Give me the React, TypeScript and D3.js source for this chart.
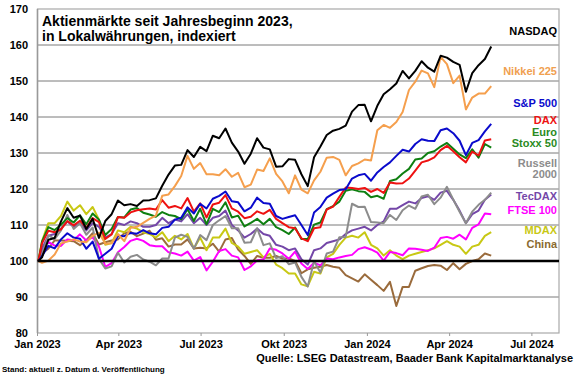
import React from "react";
import * as d3 from "d3";

const START = new Date(2023, 0, 2);
// weekly Friday closes from 6 Jan 2023 to 17 May 2024 (72 weeks)
const weeks: Date[] = Array.from({ length: 72 }, (_, i) => new Date(2023, 0, 6 + 7 * i));
const dates: Date[] = [START, ...weeks];

const nasdaq = [101.0,105.9,106.4,111.0,114.7,112.0,112.6,108.9,111.7,106.4,111.1,113.0,116.8,115.5,115.8,115.3,116.8,116.9,117.4,120.9,124.0,126.5,126.7,130.8,128.9,131.7,130.5,134.8,134.1,136.8,132.9,130.4,127.0,129.8,134.1,131.5,131.0,126.2,126.3,128.3,128.1,124.1,120.8,128.8,131.8,135.0,136.2,136.7,137.6,141.5,143.3,143.4,138.8,143.1,146.3,147.7,149.3,152.8,150.7,152.8,155.5,153.7,152.6,157.0,156.5,155.3,154.5,147.0,152.2,154.4,156.1,159.6];
const nikkei = [99.5,100.1,101.8,104.9,105.4,106.0,105.4,105.2,107.0,107.9,104.8,104.9,107.5,105.5,109.2,109.5,110.6,111.7,112.6,118.1,118.5,120.8,123.6,129.2,125.6,127.2,124.1,124.1,123.8,125.5,123.4,124.5,120.5,121.2,125.4,125.0,128.5,124.2,122.1,118.8,123.8,119.8,118.8,122.4,124.8,128.7,128.9,128.1,123.8,126.4,127.1,128.2,127.9,136.3,137.8,137.0,138.6,141.4,147.5,149.8,152.9,152.1,148.3,156.7,154.7,149.4,151.5,142.1,145.4,146.5,146.5,148.6];
const sp500 = [101.4,104.2,103.5,106.0,107.7,106.5,106.2,103.4,105.4,100.6,102.0,103.4,107.0,106.9,107.8,107.6,108.6,107.7,107.4,109.2,109.5,111.5,112.0,114.9,113.2,115.9,114.6,117.3,118.1,119.3,116.6,116.3,113.8,114.8,117.6,116.1,115.9,112.5,111.7,112.2,112.7,110.0,107.2,113.5,115.0,117.6,118.7,119.7,119.9,122.9,123.8,124.2,122.3,124.6,126.1,127.4,129.2,130.9,130.4,132.5,133.8,133.4,133.3,136.3,136.8,135.5,133.4,129.4,132.8,133.6,136.0,138.1];
const dax = [104.9,108.4,108.0,108.8,111.1,109.9,111.2,109.2,111.9,110.8,106.1,107.4,112.2,112.0,113.5,114.1,114.4,114.6,114.3,116.9,114.8,115.3,114.6,117.5,113.7,116.0,112.1,115.7,116.2,118.3,114.6,113.7,111.9,112.3,113.8,113.1,114.2,111.7,110.5,109.4,109.1,106.3,105.5,109.1,109.4,114.3,115.1,117.8,120.4,120.3,120.0,120.3,119.2,120.0,118.9,121.8,121.5,121.6,122.9,125.1,127.4,127.9,128.8,130.8,132.0,130.5,128.8,127.4,130.4,129.3,133.5,133.8];
const euroStoxx = [105.4,109.4,108.6,110.1,111.9,110.7,112.7,110.2,113.2,111.5,107.2,108.9,112.2,112.1,114.3,114.7,113.4,112.9,112.3,113.6,112.8,112.5,111.6,114.4,111.1,114.5,110.2,114.5,113.6,116.3,112.1,112.6,109.6,110.6,111.7,110.2,111.7,109.4,108.6,107.5,109.3,106.1,106.1,110.1,110.7,114.4,115.2,116.5,119.5,119.9,119.4,119.2,117.7,118.1,117.3,122.2,122.7,124.3,125.6,128.2,128.5,130.0,130.5,131.8,132.8,131.2,129.6,128.6,131.0,128.7,132.5,131.5];
const russell = [101.8,107.1,106.1,108.5,112.8,108.9,110.5,107.3,109.3,100.6,97.9,98.5,102.3,99.6,101.2,101.7,100.4,99.8,98.8,100.7,100.7,106.5,107.3,106.7,103.4,107.2,105.8,110.0,111.3,112.5,109.1,109.1,105.1,105.2,109.1,104.4,104.9,100.8,101.3,99.1,99.6,95.6,92.9,99.9,96.8,102.1,102.6,106.6,106.7,115.9,115.0,115.1,110.8,110.7,110.5,112.8,111.4,114.1,115.4,114.5,117.9,118.4,115.8,117.6,120.6,117.1,113.7,110.5,113.7,115.6,117.0,119.0];
const tecdax = [103.5,107.0,107.5,109.0,111.0,109.5,110.5,108.5,110.5,109.5,106.5,107.5,110.5,110.0,111.0,110.5,109.5,109.5,110.0,112.0,110.5,111.5,111.0,113.0,110.5,112.0,110.0,112.0,112.5,114.0,110.0,108.5,106.5,107.5,109.0,107.5,107.0,104.5,104.0,103.0,103.5,100.5,99.0,103.0,103.5,105.0,105.5,106.0,107.5,108.5,109.0,109.5,108.5,110.0,111.0,114.5,114.5,115.5,116.5,116.0,117.5,118.0,117.0,119.0,119.5,117.0,114.0,110.5,113.0,114.0,117.0,118.5];
const ftse = [103.3,105.3,104.3,104.2,106.0,105.8,107.4,105.7,106.6,104.0,98.4,99.4,102.4,103.9,105.6,106.2,105.6,104.4,104.1,104.1,102.4,102.1,101.5,102.6,100.1,101.1,97.4,99.8,102.8,103.3,101.5,101.0,97.5,98.5,100.2,100.4,103.5,103.1,102.1,100.6,102.6,99.3,97.8,99.5,98.8,100.7,100.5,101.0,101.4,101.7,103.3,103.8,103.2,102.3,100.1,102.5,102.2,101.6,103.5,103.4,103.1,102.8,103.7,106.4,106.7,106.2,107.3,106.0,109.2,110.2,113.2,113.0];
const mdax = [105.5,110.5,110.5,112.5,116.5,114.0,115.5,113.0,115.0,111.5,104.5,105.0,108.5,108.0,109.5,109.0,108.0,107.5,106.5,108.0,105.5,107.0,106.0,107.5,103.5,106.5,103.0,106.5,106.5,109.0,105.0,104.0,102.0,102.5,103.0,101.0,102.0,99.0,98.0,96.5,96.5,93.5,93.0,97.0,96.5,101.0,102.0,104.5,106.5,107.0,106.5,108.0,104.5,103.5,101.5,103.0,101.5,100.5,101.5,102.0,102.5,103.0,103.5,104.5,105.5,104.5,104.0,102.0,104.0,104.5,107.0,108.0];
const china = [102.2,103.4,105.7,105.7,105.6,105.5,104.4,105.8,107.7,104.6,105.2,105.7,106.0,107.7,108.1,106.9,107.6,108.4,105.9,106.3,104.0,104.6,104.6,106.0,103.5,103.7,103.5,104.8,102.6,106.0,106.4,103.2,101.4,99.2,101.4,100.9,100.9,101.4,100.7,100.7,100.0,96.6,97.7,98.1,98.4,98.9,98.4,98.1,96.1,95.2,94.3,96.3,94.8,93.3,91.7,94.2,87.5,92.8,92.8,97.3,98.0,98.6,98.9,98.7,97.5,99.4,97.7,99.2,100.0,100.5,102.1,101.5];

const seriesOrder = [
  { name: "China", values: china, color: "#9a6b3c" },
  { name: "MDAX", values: mdax, color: "#c8c814" },
  { name: "FTSE 100", values: ftse, color: "#ff00ff" },
  { name: "TecDAX", values: tecdax, color: "#7447a8" },
  { name: "Russell 2000", values: russell, color: "#8c8c8c" },
  { name: "Euro Stoxx 50", values: euroStoxx, color: "#0e7f10" },
  { name: "DAX", values: dax, color: "#ee1111" },
  { name: "S&P 500", values: sp500, color: "#0a0acc" },
  { name: "Nikkei 225", values: nikkei, color: "#f59f4d" },
  { name: "NASDAQ", values: nasdaq, color: "#000000" },
];

const legendLines = [
  { text: "NASDAQ", color: "#000000", v: 163.8 },
  { text: "Nikkei 225", color: "#f0a050", v: 152.7 },
  { text: "S&P 500", color: "#0a0acc", v: 143.8 },
  { text: "DAX", color: "#ee1111", v: 139.0 },
  { text: "Euro", color: "#2a8a22", v: 135.9 },
  { text: "Stoxx 50", color: "#2a8a22", v: 132.6 },
  { text: "Russell", color: "#8c8c8c", v: 127.3 },
  { text: "2000", color: "#8c8c8c", v: 124.0 },
  { text: "TecDAX", color: "#7447a8", v: 118.1 },
  { text: "FTSE 100", color: "#ff00ff", v: 114.2 },
  { text: "MDAX", color: "#c8c814", v: 108.6 },
  { text: "China", color: "#8a6a30", v: 104.7 },
];

const yTicks = [80, 90, 100, 110, 120, 130, 140, 150, 160, 170];
const xTickDates = [new Date(2023, 0, 1), new Date(2023, 3, 1), new Date(2023, 6, 1), new Date(2023, 9, 1), new Date(2024, 0, 1), new Date(2024, 3, 1), new Date(2024, 6, 1)];
const xTickLabels = ["Jan 2023", "Apr 2023", "Jul 2023", "Okt 2023", "Jan 2024", "Apr 2024", "Jul 2024"];

const W = 580, H = 375;
const L = 37.5, R = 559, T = 9, B = 333;
const FONT = "'Liberation Sans', Arial, Helvetica, sans-serif";

export default function App() {
  const x = d3.scaleTime().domain([new Date(2023, 0, 1), new Date(2024, 6, 31)]).range([L, R]);
  const y = d3.scaleLinear().domain([80, 170]).range([B, T]);
  const line = d3.line<number>().x((_, i) => x(dates[i])).y((v) => y(v));

  return (
    <svg width={W} height={H} style={{ position: "absolute", left: 0, top: 0, background: "#fff" }} fontFamily={FONT}>
      <rect x={0} y={0} width={W} height={H} fill="#fff" />
      {yTicks.filter((t) => t > 80 && t < 170 && t !== 100).map((t) => (
        <line key={t} x1={L} x2={R} y1={y(t)} y2={y(t)} stroke="#7a7a7a" strokeWidth={1} />
      ))}
      <rect x={L} y={T} width={R - L} height={B - T} fill="none" stroke="#a8a8a8" strokeWidth={1.2} />
      <line x1={L} x2={L} y1={T} y2={B} stroke="#999" strokeWidth={1.5} />
      {xTickDates.map((d, i) => (
        <line key={i} x1={x(d)} x2={x(d)} y1={B} y2={B + 3} stroke="#999" />
      ))}
      {yTicks.map((t) => (
        <text key={t} x={28} y={y(t)} dy="0.35em" textAnchor="end" fontSize={11} fontWeight="bold" fill="#000">{t}</text>
      ))}
      {xTickDates.map((d, i) => (
        <text key={i} x={x(d)} y={344.5} dy="0.35em" textAnchor="middle" fontSize={11} fontWeight="bold" fill="#000">{xTickLabels[i]}</text>
      ))}
      {seriesOrder.map((s) => (
        <path key={s.name} d={line([100, ...s.values]) || ""} fill="none" stroke={s.color} strokeWidth={2} strokeLinejoin="round" />
      ))}
      <line x1={L} x2={R} y1={y(100)} y2={y(100)} stroke="#000" strokeWidth={2.5} />
      <text x={42} y={26} fontSize={14} fontWeight="bold" fill="#000">Aktienmärkte seit Jahresbeginn 2023,</text>
      <text x={42} y={41} fontSize={14} fontWeight="bold" fill="#000">in Lokalwährungen, indexiert</text>
      {legendLines.map((l) => (
        <text key={l.text} x={557} y={y(l.v)} dy="0.35em" textAnchor="end" fontSize={11} fontWeight="bold" fill={l.color}>{l.text}</text>
      ))}
      <text x={573} y={358.5} dy="0.35em" textAnchor="end" fontSize={11} fontWeight="bold" fill="#000">Quelle: LSEG Datastream, Baader Bank Kapitalmarktanalyse</text>
      <text x={2} y={369.5} dy="0.35em" fontSize={8} fontWeight="bold" fill="#000">Stand: aktuell z. Datum d. Veröffentlichung</text>
    </svg>
  );
}
